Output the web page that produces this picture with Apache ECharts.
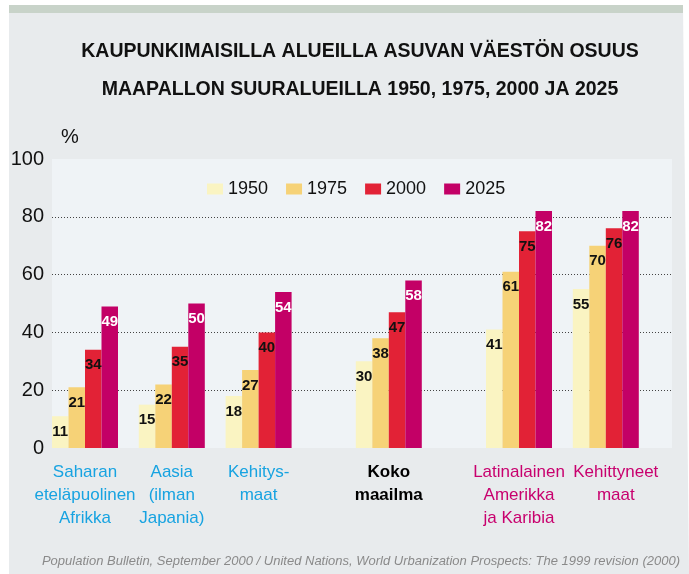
<!DOCTYPE html>
<html>
<head>
<meta charset="utf-8">
<script src="https://cdn.jsdelivr.net/npm/echarts@6/dist/echarts.min.js"></script>
<style>
    html, body { margin: 0; padding: 0; background: #ffffff; }
    #chart { width: 689px; height: 574px; }
</style>
</head>
<body>
<div id="chart"></div>
<script>
    // kaupunkiväestön osuus (%) alueittain
    const categories = ['Saharan\neteläpuolinen\nAfrikka', 'Aasia\n(ilman\nJapania)', 'Kehitys-\nmaat', 'Koko\nmaailma', 'Latinalainen\nAmerikka\nja Karibia', 'Kehittyneet\nmaat'];
    const labelStyle = ['cyan', 'cyan', 'cyan', 'world', 'pink', 'pinkR'];
    const slots = [0, 2, 4, 7, 10, 12];   // väli ennen ja jälkeen "Koko maailma"
    const years = ['1950', '1975', '2000', '2025'];
    const v1950 = [11, 15, 18, 30, 41, 55];
    const v1975 = [21, 22, 27, 38, 61, 70];
    const v2000 = [34, 35, 40, 47, 75, 76];
    const v2025 = [49, 50, 54, 58, 82, 82];
    const yTicks = [0, 20, 40, 60, 80, 100];

    const FONT = '"Liberation Sans", Arial, sans-serif';
    const colors = ['#faf4c2', '#f6d277', '#e22236', '#c30066'];
    const nSlots = 13;

    function spread(vals) {
        let arr = new Array(nSlots).fill(null);
        slots.forEach((s, i) => { arr[s] = vals[i]; });
        return arr;
    }
    let slotNames = new Array(nSlots).fill('');
    slots.forEach((s, i) => { slotNames[s] = '{' + labelStyle[i] + '|' + categories[i] + '}'; });

    const seriesVals = [v1950, v1975, v2000, v2025];
    let series = years.map((y, i) => ({
        name: y,
        type: 'bar',
        xAxisIndex: 1,
        yAxisIndex: 1,
        barWidth: 16.5,
        barGap: '0%',
        clip: false,
        itemStyle: { color: colors[i] },
        label: {
            show: true,
            position: 'insideTop',
            distance: 8,
            fontFamily: FONT,
            fontSize: 15,
            fontWeight: 'bold',
            color: i === 3 ? '#ffffff' : '#111111'
        },
        data: spread(seriesVals[i])
    }));

    let myChart = echarts.init(document.getElementById('chart'));
    myChart.setOption({
        animation: false,
        textStyle: { fontFamily: FONT },
        graphic: [
            { type: 'polygon', z: -10, shape: { points: [[9, 5], [683, 5], [689, 574], [9, 574]] }, style: { fill: '#e8ebed' } },
            { type: 'rect', z: -9, shape: { x: 9, y: 5, width: 674, height: 8 }, style: { fill: '#c8d3c9' } }
        ],
        title: [
            {
                text: 'KAUPUNKIMAISILLA ALUEILLA ASUVAN VÄESTÖN OSUUS\nMAAPALLON SUURALUEILLA 1950, 1975, 2000 JA 2025',
                left: 360,
                top: 33,
                padding: 0,
                textAlign: 'center',
                textStyle: { fontFamily: FONT, fontSize: 19.5, fontWeight: 'bold', color: '#111111', lineHeight: 38 }
            },
            {
                text: 'Population Bulletin, September 2000 / United Nations, World Urbanization Prospects: The 1999 revision (2000)',
                right: 9,
                bottom: 6,
                padding: 0,
                textStyle: { fontFamily: FONT, fontSize: 13, fontStyle: 'italic', fontWeight: 'normal', color: '#8a8a8a' }
            }
        ],
        legend: {
            data: years,
            left: 207,
            top: 180,
            padding: 0,
            icon: 'rect',
            itemWidth: 16,
            itemHeight: 11,
            itemGap: 18,
            textStyle: { fontFamily: FONT, fontSize: 18, color: '#111111' }
        },
        grid: [
            { left: 52, right: 17, top: 159, bottom: 126, show: true, backgroundColor: '#eff3f6', borderWidth: 0 },
            { left: 63.3, right: 61.5, top: 159, bottom: 126 }
        ],
        xAxis: [
            { type: 'category', gridIndex: 0, data: [''], show: false },
            {
                type: 'category',
                gridIndex: 1,
                data: slotNames,
                axisLine: { show: false },
                axisTick: { show: false },
                axisLabel: {
                    interval: 0,
                    margin: 13,
                    rich: {
                        cyan: { fontFamily: FONT, fontSize: 17, lineHeight: 23, color: '#17a3e1' },
                        world: { fontFamily: FONT, fontSize: 17, lineHeight: 23, color: '#000000', fontWeight: 'bold' },
                        pink: { fontFamily: FONT, fontSize: 17, lineHeight: 23, color: '#c8006e' },
                        pinkR: { fontFamily: FONT, fontSize: 17, lineHeight: 23, color: '#c8006e', padding: [0, 0, 0, 20] }
                    }
                }
            }
        ],
        yAxis: [
            {
                type: 'value',
                gridIndex: 0,
                min: yTicks[0],
                max: yTicks[yTicks.length - 1],
                interval: 20,
                name: '%',
                nameLocation: 'end',
                nameGap: 12,
                nameTextStyle: { fontFamily: FONT, fontSize: 20, color: '#111111', align: 'left', padding: [0, 0, 0, 9] },
                axisLine: { show: false },
                axisTick: { show: false },
                axisLabel: { margin: 8, fontFamily: FONT, fontSize: 20, color: '#111111' },
                splitLine: {
                    show: true,
                    showMinLine: false,
                    showMaxLine: false,
                    lineStyle: { color: '#444444', type: [1, 2], width: 1 }
                }
            },
            { type: 'value', gridIndex: 1, min: 0, max: 100, show: false, splitLine: { show: false } }
        ],
        series: series
    });
</script>
</body>
</html>
